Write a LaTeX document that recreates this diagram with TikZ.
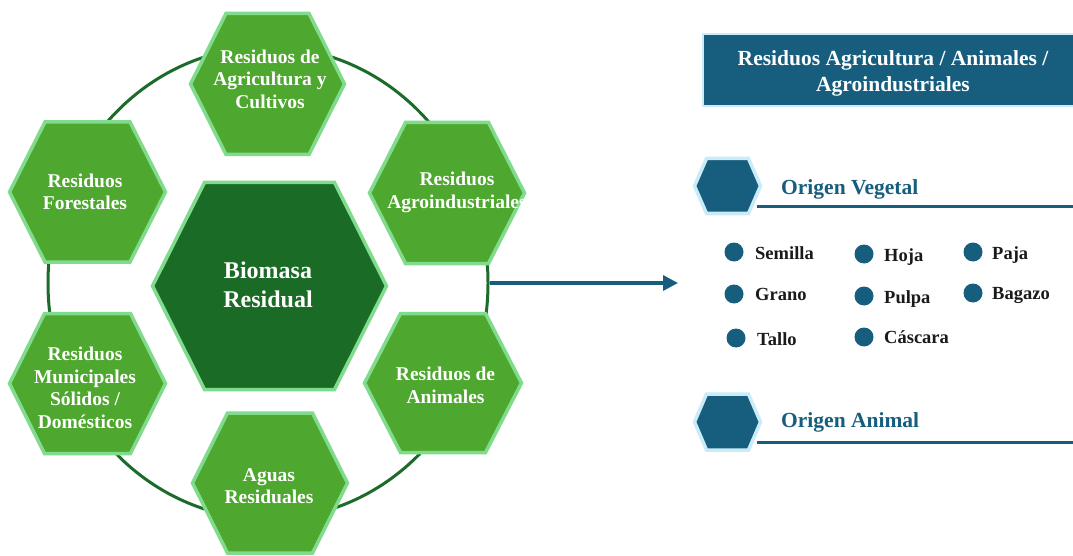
\documentclass[tikz,border=0pt]{standalone}
\usepackage{fontspec}
\setmainfont{Liberation Serif}
\usetikzlibrary{shapes.geometric,arrows.meta}
\definecolor{hexfill}{HTML}{4EA72E}
\definecolor{hexedge}{HTML}{80DC8C}
\definecolor{core}{HTML}{1A6B25}
\definecolor{ringcol}{HTML}{1D6B2B}
\definecolor{navy}{HTML}{175E7E}
\definecolor{pale}{HTML}{C9ECF8}
\definecolor{itemtext}{HTML}{1A1A1A}
\newcommand\hexat[6]{\path[#6] ({#1-#3},#2) -- ({#1-#5},{#2-#4}) -- ({#1+#5},{#2-#4}) -- ({#1+#3},#2) -- ({#1+#5},{#2+#4}) -- ({#1-#5},{#2+#4}) -- cycle;}
\begin{document}
\begin{tikzpicture}[x=1pt,y=-1pt,
  hexstyle/.style={fill=hexfill, draw=hexedge, line width=3.5pt, line join=miter},
  corestyle/.style={fill=core, draw=hexedge, line width=3.5pt, line join=miter},
  bluehex/.style={fill=navy, draw=pale, line width=3.5pt, line join=miter},
  hextext/.style={text=white, font=\bfseries\fontsize{19.5}{22.5}\selectfont, align=center, inner sep=0pt},
  coretext/.style={text=white, font=\bfseries\fontsize{24}{29}\selectfont, align=center, inner sep=0pt},
  titletext/.style={text=white, font=\bfseries\fontsize{21.5}{26}\selectfont, align=center, inner sep=0pt},
  titlebox/.style={rectangle, fill=navy, draw=pale, line width=2pt, minimum width=380pt, minimum height=72pt, inner sep=0pt},
  bullet/.style={circle, fill=navy, minimum size=19pt, inner sep=0pt},
  item/.style={anchor=base west, inner sep=0pt, font=\bfseries\fontsize{18.5}{22}\selectfont, text=itemtext},
  heading/.style={anchor=base west, inner sep=0pt, font=\bfseries\fontsize{21.5}{25}\selectfont, text=navy},
  underline/.style={draw=navy, line width=3pt}
]
\useasboundingbox (0,0) rectangle (1073,556);
\fill[white] (0,0) rectangle (1073,556);

% ring and arrow
\node[ellipse, draw=ringcol, line width=3pt, minimum width=440pt, minimum height=472pt, inner sep=0pt] (ringnode) at (268,283) {};
\coordinate (arrowtip) at (678,283);
\draw[navy, line width=3.3pt, -{Triangle[length=15pt,width=15pt]}] (ringnode.east) -- (arrowtip);

% hexagons
\hexat{267.5}{84}{77}{70.5}{41.5}{hexstyle}
\hexat{87.5}{192}{78}{70}{42.5}{hexstyle}
\hexat{447}{193}{77.5}{70.5}{41.5}{hexstyle}
\hexat{87.5}{383.5}{78}{70}{43}{hexstyle}
\hexat{443}{383}{78.5}{69.5}{42.5}{hexstyle}
\hexat{270}{483}{77.5}{70}{42.5}{hexstyle}
\hexat{269.5}{286}{117}{103.5}{65}{corestyle}

\node[hextext] (agri) at (270,79) {Residuos de\\Agricultura y\\Cultivos};
\node[hextext] (fores) at (85,192) {Residuos\\Forestales};
\node[hextext] (agroind) at (457,192.3) {Residuos\\Agroindustriales};
\node[hextext] (munic) at (85,387.8) {Residuos\\Municipales\\Sólidos /\\Domésticos};
\node[hextext] (anim) at (445.5,385.3) {Residuos de\\Animales};
\node[hextext] (aguas) at (269,486) {Aguas\\Residuales};
\node[coretext] (biomasa) at (268,284.6) {Biomasa\\Residual};

% right panel
\node[titlebox] (tbox) at (893,70) {};
\node[titletext] (ttext) at (893,73) {Residuos Agricultura / Animales /\\Agroindustriales};

\hexat{727.5}{186}{33}{27.5}{21}{bluehex}
\node[heading] (veg) at (781,194) {Origen Vegetal};
\coordinate (vegA) at (757,207);
\coordinate (vegB) at (1075,207);
\draw[underline] (vegA) -- (vegB);

\node[bullet] (b1) at (734,252) {};
\node[bullet] (b2) at (734,294) {};
\node[bullet] (b3) at (736,338) {};
\node[bullet] (b4) at (864,254) {};
\node[bullet] (b5) at (864,296) {};
\node[bullet] (b6) at (864,337) {};
\node[bullet] (b7) at (973,252) {};
\node[bullet] (b8) at (973,293) {};
\node[item] (t1) at (755,259) {Semilla};
\node[item] (t2) at (755,300) {Grano};
\node[item] (t3) at (757,345) {Tallo};
\node[item] (t4) at (884,261) {Hoja};
\node[item] (t5) at (884,303) {Pulpa};
\node[item] (t6) at (884,343) {Cáscara};
\node[item] (t7) at (992,259) {Paja};
\node[item] (t8) at (992,299) {Bagazo};

\hexat{727.5}{422}{33}{28}{21}{bluehex}
\node[heading] (ani) at (781,427) {Origen Animal};
\coordinate (aniA) at (757,442);
\coordinate (aniB) at (1075,442);
\draw[underline] (aniA) -- (aniB);
\end{tikzpicture}
\end{document}
